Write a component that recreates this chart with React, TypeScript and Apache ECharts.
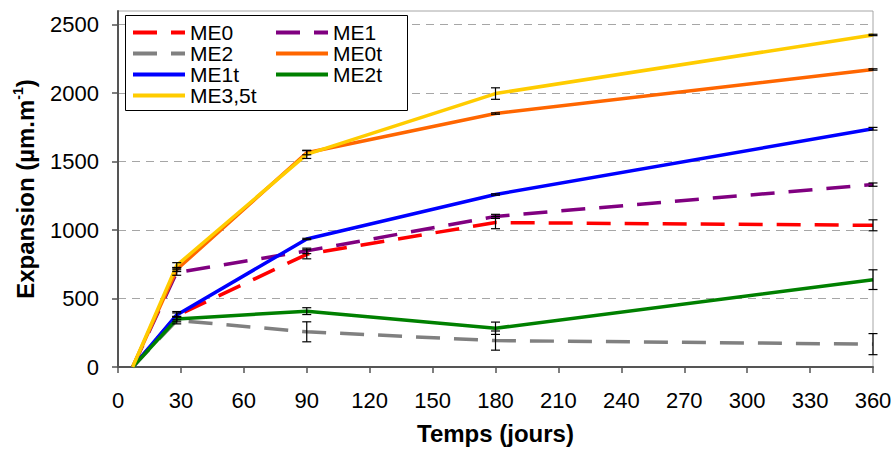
import React, { useEffect, useRef } from "react";
import * as echarts from "echarts";

const days = [7, 28, 90, 180, 360];
const xTicks = [0, 30, 60, 90, 120, 150, 180, 210, 240, 270, 300, 330, 360];
const yTicks = [0, 500, 1000, 1500, 2000, 2500];

const seriesNames = ["ME0", "ME1", "ME2", "ME0t", "ME1t", "ME2t", "ME3,5t"];
const ME0 = [0, 375, 823, 1055, 1035];
const ME1 = [0, 690, 848, 1100, 1332];
const ME2 = [0, 340, 257, 193, 167];
const ME0t = [0, 712, 1565, 1851, 2173];
const ME1t = [0, 380, 935, 1260, 1740];
const ME2t = [0, 350, 408, 283, 638];
const ME35t = [0, 742, 1553, 1997, 2425];

const errME0 = [0, 30, 33, 45, 40];
const errME1 = [0, 20, 20, 15, 12];
const errME2 = [0, 25, 73, 70, 77];
const errME0t = [0, 15, 15, 5, 5];
const errME1t = [0, 15, 5, 5, 10];
const errME2t = [0, 20, 25, 45, 72];
const errME35t = [0, 20, 30, 42, 5];

const colors = ["#FF0000", "#800080", "#808080", "#FF6600", "#0000FF", "#008000", "#FFCC00"];
const dashed = [true, true, true, false, false, false, false];

const FONT = "'Liberation Sans', Arial, sans-serif";

export default function App() {
  const ref = useRef<HTMLDivElement>(null);
  useEffect(() => {
    document.body.style.margin = "0";
    if (!ref.current) return;
    const chart = echarts.init(ref.current, undefined, { renderer: "svg" });
    const values = [ME0, ME1, ME2, ME0t, ME1t, ME2t, ME35t];
    const errs = [errME0, errME1, errME2, errME0t, errME1t, errME2t, errME35t];

    const lineSeries = seriesNames.map((name, i) => ({
      name,
      type: "line",
      data: days.map((d, j) => [d, values[i][j]]),
      symbol: "none",
      showSymbol: false,
      lineStyle: {
        color: colors[i],
        width: 3.5,
        type: dashed[i] ? [24, 14] : "solid",
      },
      itemStyle: { color: colors[i] },
      z: 2,
    }));

    const errSeries = seriesNames.map((name, i) => ({
      name: name + " err",
      type: "custom",
      z: 3,
      data: days
        .map((d, j) => [d, values[i][j] - errs[i][j], values[i][j] + errs[i][j], errs[i][j]])
        .filter((p) => p[3] > 0),
      encode: { x: 0, y: [1, 2] },
      renderItem: (params: any, api: any) => {
        const x = api.value(0);
        const lo = api.value(1);
        const hi = api.value(2);
        const p1 = api.coord([x, hi]);
        const p2 = api.coord([x, lo]);
        const w = 4.5;
        const st = { stroke: "#000", lineWidth: 1.2 };
        return {
          type: "group",
          children: [
            { type: "line", shape: { x1: p1[0], y1: p1[1], x2: p2[0], y2: p2[1] }, style: st },
            { type: "line", shape: { x1: p1[0] - w, y1: p1[1], x2: p1[0] + w, y2: p1[1] }, style: st },
            { type: "line", shape: { x1: p2[0] - w, y1: p2[1], x2: p2[0] + w, y2: p2[1] }, style: st },
          ],
        };
      },
    }));

    const legendCommon = {
      orient: "vertical",
      itemWidth: 52,
      itemHeight: 12,
      itemGap: 0,
      padding: 0,
      selectedMode: false,
      z: 10,
      lineStyle: { width: 4 },
      itemStyle: { color: "rgba(0,0,0,0)", borderWidth: 0, opacity: 0 },
      textStyle: { fontSize: 21, lineHeight: 21, fontFamily: FONT, color: "#000" },
    };

    chart.setOption({
      animation: false,
      backgroundColor: "#fff",
      grid: {
        left: 118,
        right: 23,
        top: 11,
        bottom: 82,
        show: true,
        borderColor: "#a6a6a6",
        borderWidth: 1,
        backgroundColor: "transparent",
      },
      legend: [
        { ...legendCommon, data: ["ME0", "ME2", "ME1t", "ME3,5t"], left: 131, top: 22 },
        { ...legendCommon, data: ["ME1", "ME0t", "ME2t"], left: 274, top: 22 },
      ],
      graphic: [
        {
          type: "rect",
          z: 5,
          shape: { x: 125.5, y: 15.5, width: 282, height: 95 },
          style: { fill: "#fff", stroke: "#000", lineWidth: 1 },
        },
      ],
      xAxis: {
        type: "value",
        min: 0,
        max: 360,
        interval: 30,
        name: "Temps (jours)",
        nameLocation: "middle",
        nameGap: 54,
        nameTextStyle: { fontSize: 24, fontWeight: "bold", fontFamily: FONT, color: "#000" },
        axisLine: { show: true, onZero: false, lineStyle: { color: "#555", width: 2 } },
        axisTick: { show: true, length: 6, lineStyle: { color: "#555", width: 1.5 }, customValues: xTicks },
        axisLabel: { fontSize: 22, margin: 22, color: "#000", fontFamily: FONT, customValues: xTicks, formatter: (v: number) => String(v) },
        splitLine: { show: false },
      },
      yAxis: {
        type: "value",
        min: 0,
        max: 2600,
        interval: 500,
        name: "Expansion (µm.m{s|-1})",
        nameLocation: "middle",
        nameGap: 78,
        nameRotate: 90,
        nameTextStyle: {
          fontSize: 24,
          fontWeight: "bold",
          fontFamily: FONT,
          color: "#000",
          lineHeight: 28,
          rich: {
            s: { fontSize: 14, fontWeight: "bold", fontFamily: FONT, color: "#000", verticalAlign: "top", lineHeight: 28 },
          },
        },
        axisLine: { show: true, lineStyle: { color: "#555", width: 2 } },
        axisTick: { show: true, length: 6, lineStyle: { color: "#555", width: 1.5 }, customValues: yTicks },
        axisLabel: { fontSize: 22, margin: 19, color: "#000", fontFamily: FONT, customValues: yTicks, formatter: (v: number) => String(v) },
        splitLine: { show: true, lineStyle: { color: "#a6a6a6", type: [8, 6], width: 1 } },
      },
      series: [...lineSeries, ...errSeries],
    });
    return () => chart.dispose();
  }, []);
  return <div ref={ref} style={{ width: 896, height: 450 }} />;
}
